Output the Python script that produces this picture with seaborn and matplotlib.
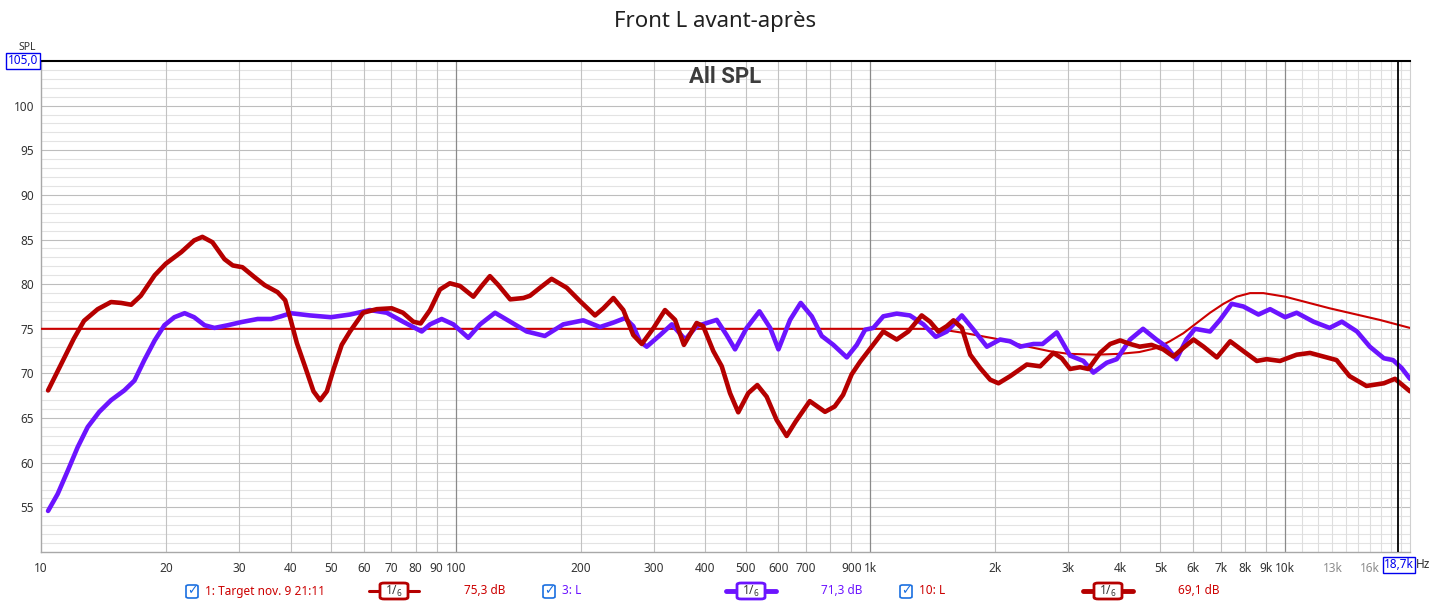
import matplotlib.pyplot as plt
import seaborn as sns
import pandas as pd
from matplotlib.patches import FancyBboxPatch
from matplotlib.lines import Line2D

# courbe cible (Target)
target_f = [10, 1300, 1450, 1700, 2000, 2400, 2700, 3000, 3500, 4000, 4450, 4900, 5270, 5680,
            6120, 6590, 7100, 7640, 8230, 8860, 10000, 12800, 16900, 20000]
target_db = [75.0, 75.0, 75.0, 74.5, 73.9, 73.0, 72.5, 72.2, 72.1, 72.2, 72.4, 72.85, 73.6, 74.5,
             75.65, 76.8, 77.8, 78.6, 79.0, 79.0, 78.6, 77.3, 76.0, 75.1]

# 3: L (avant)
l3_f = [10.4, 10.97, 11.6, 12.26, 12.96, 13.82, 14.75, 15.88, 16.8, 17.75, 18.8, 19.84, 20.97, 22.2,
        23.4, 24.8, 26.2, 28.2, 30.4, 33.3, 35.9, 37.9, 40.0, 44.5, 50, 55.6, 62.1, 68.2, 74.6,
        82.8, 86.7, 92.5, 98.7, 107.2, 114.5, 124.4, 135.3, 148.3, 164, 181.7, 203, 222.8, 240,
        256, 268, 278, 288.8, 311, 332, 357.5, 381, 403, 426, 450, 471.6, 503, 540, 573, 600,
        640, 679, 722, 763, 814, 877, 927, 971, 1016, 1074, 1157, 1245, 1342, 1437, 1528, 1661,
        1773, 1909, 2054, 2173, 2296, 2472, 2600, 2814, 3029, 3262, 3448, 3713, 3926, 4228,
        4543, 4892, 5172, 5469, 5780, 6060, 6589, 6965, 7431, 7930, 8621, 9198, 10000, 10660,
        11700, 12800, 13700, 14900, 16000, 17300, 18200, 19100, 20000]
l3_db = [54.6, 56.5, 59.1, 61.75, 64.0, 65.7, 67.0, 68.1, 69.2, 71.5, 73.7, 75.4, 76.3, 76.75,
         76.3, 75.4, 75.1, 75.4, 75.75, 76.1, 76.1, 76.4, 76.75, 76.5, 76.3, 76.6, 77.1, 76.8, 75.8,
         74.7, 75.5, 76.1, 75.5, 74.0, 75.5, 76.8, 75.8, 74.7, 74.2, 75.5, 75.95, 75.2, 75.7,
         76.2, 75.3, 73.6, 73.0, 74.3, 75.5, 73.8, 75.3, 75.65, 76.0, 74.3, 72.7, 75.1, 76.96, 75.1, 72.7,
         76.0, 77.9, 76.4, 74.2, 73.2, 71.8, 73.2, 74.9, 75.1, 76.4, 76.7, 76.5, 75.5, 74.1, 74.7, 76.5,
         74.9, 73.0, 73.8, 73.6, 73.0, 73.3, 73.3, 74.6, 72.0, 71.4, 70.1, 71.2, 71.6, 73.8,
         75.0, 73.8, 73.0, 71.6, 73.8, 75.0, 74.7, 76.0, 77.8, 77.5, 76.6, 77.2, 76.3, 76.8,
         75.8, 75.1, 75.8, 74.7, 73.0, 71.7, 71.5, 70.6, 69.4]

# 10: L (après)
l10_f = [10.4, 11.2, 12.0, 12.7, 13.7, 14.75, 15.6, 16.5, 17.4, 18.8, 20.0, 21.8, 23.4, 24.5, 25.9,
         27.7, 29.0, 30.6, 32.7, 34.6, 37.2, 38.8, 40.0, 41.4, 43.3, 45.4, 47.1, 48.9, 50.7, 53.1,
         55.6, 59.8, 64.5, 70.1, 74.6, 79.0, 82.3, 86.7, 91.6, 96.8, 102.4, 110.3, 115.5, 120.9,
         126.7, 135.3, 145.6, 151, 159.7, 170.3, 185.2, 199.4, 216.7, 227, 240, 253.6, 268, 281,
         300, 319.6, 338, 355, 381, 395, 418, 438, 458.5, 480, 507.6, 533.6, 562, 594, 628, 660,
         714, 777, 820, 859, 901, 944, 1007, 1074, 1157, 1234, 1329, 1392, 1458, 1528, 1586, 1661,
         1740, 1839, 1944, 2036, 2173, 2383, 2566, 2762, 2893, 3029, 3202, 3354, 3578, 3784, 4000,
         4228, 4460, 4762, 5080, 5374, 5675, 6013, 6357, 6843, 7370, 7930, 8543, 9028, 9720,
         10660, 11480, 12360, 13300, 14300, 15700, 17300, 18400, 19300, 20000]
l10_db = [68.1, 71.1, 73.9, 75.9, 77.2, 78.0, 77.9, 77.7, 78.7, 81.0, 82.3, 83.6, 84.9, 85.3, 84.7,
          82.8, 82.1, 81.9, 80.8, 79.9, 79.1, 78.2, 76.0, 73.4, 70.8, 68.0, 67.0, 68.0, 70.4, 73.2,
          74.7, 76.8, 77.2, 77.3, 76.8, 75.8, 75.6, 77.1, 79.4, 80.1, 79.8, 78.6, 79.8, 80.9,
          79.9, 78.3, 78.45, 78.7, 79.6, 80.6, 79.6, 78.1, 76.5, 77.3, 78.45, 77.1, 74.3, 73.3,
          75.1, 77.1, 76.0, 73.2, 75.65, 75.3, 72.5, 70.8, 67.8, 65.65, 67.8, 68.7, 67.4, 64.8, 63.0, 64.6,
          66.9, 65.7, 66.3, 67.6, 69.9, 71.3, 73.0, 74.7, 73.8, 74.7, 76.5, 75.8, 74.7, 75.3, 75.95, 75.1,
          72.1, 70.6, 69.3, 68.9, 69.7, 71.0, 70.8, 72.3, 71.7, 70.5, 70.7, 70.5, 72.3, 73.3, 73.7,
          73.3, 73.0, 73.2, 72.7, 71.9, 72.85, 73.8, 73.0, 71.8, 73.6, 72.5, 71.4, 71.6, 71.4,
          72.1, 72.3, 71.9, 71.5, 69.7, 68.6, 68.9, 69.4, 68.6, 68.0]

tick_freqs = [10, 20, 30, 40, 50, 60, 70, 80, 90, 100, 200, 300, 400, 500, 600, 700, 900, 1000,
              2000, 3000, 4000, 5000, 6000, 7000, 8000, 9000, 10000, 13000, 16000]
tick_labels = ['10', '20', '30', '40', '50', '60', '70', '80', '90', '100', '200', '300', '400',
               '500', '600', '700', '900', '1k', '2k', '3k', '4k', '5k', '6k', '7k', '8k', '9k',
               '10k', '13k', '16k']
grid_freqs = [20, 30, 40, 50, 60, 70, 80, 90, 200, 300, 400, 500, 600, 700, 800, 900,
              2000, 3000, 4000, 5000, 6000, 7000, 8000, 9000]
fine_freqs = [11000, 12000, 13000, 14000, 15000, 16000, 17000, 18000, 19000]

legend_names = ['1: Target nov. 9 21:11', '3: L', '10: L']
legend_levels = ['75,3 dB', '71,3 dB', '69,1 dB']

RED = '#cc0000'
PURPLE = '#6c14ff'
DARKRED = '#b50000'
BLUE = '#1a6fe0'

sns.set_style('white')
plt.rcParams['font.family'] = ['Noto Sans', 'DejaVu Sans']

W, H = 1431, 604
fig = plt.figure(figsize=(W / 100, H / 100), dpi=100)
ax = fig.add_axes([41 / W, 52 / H, 1369 / W, 491 / H])
ax.set_xscale('log')
ax.set_xlim(10, 20000)
ax.set_ylim(50, 105)

# grille
for v in range(51, 105):
    ax.axhline(v, color='#bdbdbd' if v % 5 == 0 else '#e3e3e3', lw=0.8, zorder=0)
for f in grid_freqs:
    ax.axvline(f, color='#c2c2c2', lw=0.8, zorder=0)
for f in fine_freqs:
    ax.axvline(f, color='#dedede', lw=0.8, zorder=0)
for f in [100, 1000, 10000]:
    ax.axvline(f, color='#8a8a8a', lw=0.9, zorder=0)

df_t = pd.DataFrame({'f': target_f, 'db': target_db})
df_3 = pd.DataFrame({'f': l3_f, 'db': l3_db})
df_10 = pd.DataFrame({'f': l10_f, 'db': l10_db})
sns.lineplot(data=df_t, x='f', y='db', ax=ax, color=RED, lw=1.5, estimator=None, sort=False, zorder=3)
sns.lineplot(data=df_3, x='f', y='db', ax=ax, color=PURPLE, lw=3.3, estimator=None, sort=False,
             zorder=4, solid_joinstyle='round', solid_capstyle='round')
sns.lineplot(data=df_10, x='f', y='db', ax=ax, color=DARKRED, lw=3.3, estimator=None, sort=False,
             zorder=5, solid_joinstyle='round', solid_capstyle='round')

# curseur
ax.axvline(18700, color='black', lw=1.3, zorder=6)

ax.set_xlabel('')
ax.set_ylabel('')
ax.set_xticks(tick_freqs)
ax.set_xticklabels(tick_labels)
ax.minorticks_off()
ax.set_yticks(range(55, 101, 5))
ax.tick_params(length=0, labelsize=8.5, colors='#333333')
ax.tick_params(axis='x', pad=7)
ax.tick_params(axis='y', pad=5)
for lab in ax.get_xticklabels():
    if lab.get_text() in ('13k', '16k'):
        lab.set_color('#8c8c8c')

for s in ['left', 'bottom']:
    ax.spines[s].set_color('#a8a8a8')
    ax.spines[s].set_linewidth(1)
ax.spines['right'].set_color('#d0d0d0')
ax.spines['top'].set_color('black')
ax.spines['top'].set_linewidth(1.5)

fig.text(0.5, 1 - 22 / H, 'Front L avant-après', ha='center', va='center', fontsize=16, color='#202020')
ax.text(0.5, 0.967, 'All SPL', transform=ax.transAxes, ha='center', va='center',
        fontsize=16, fontweight='bold', family='Roboto', color='#3c3c3c')


def px(x, y):
    return x / W, 1 - y / H


fig.text(*px(27, 47), 'SPL', ha='center', va='center', fontsize=7.5, color='#333333')
fig.text(*px(23, 61), '105,0', ha='center', va='center', fontsize=8.5, color='#0000ee',
         bbox=dict(boxstyle='square,pad=0.12', fc='white', ec='#0000ee', lw=1))
fig.text(*px(1399, 565), '18,7k', ha='center', va='center', fontsize=8.5, color='#0000ee',
         bbox=dict(boxstyle='square,pad=0.12', fc='white', ec='#0000ee', lw=1))
fig.text(*px(1423, 565), 'Hz', ha='center', va='center', fontsize=8.5, color='#333333')

# légende en bas
leg_y = 591
checks = [192, 549, 906]
name_x = [205, 562, 919]
name_col = [RED, PURPLE, RED]
sym_x = [394, 751, 1108]
sym_col = [DARKRED, PURPLE, DARKRED]
sym_lw = [2.2, 3.5, 3.5]
lvl_x = [485, 842, 1199]
lvl_col = [RED, PURPLE, RED]
for i in range(3):
    bx, by = px(checks[i] - 6, leg_y + 7)
    fig.add_artist(FancyBboxPatch((bx, by), 12 / W, 13 / H, boxstyle='round,pad=0,rounding_size=0.002',
                                  fc='white', ec=BLUE, lw=1.2, transform=fig.transFigure, zorder=3))
    fig.text(*px(checks[i], leg_y), '✓', ha='center', va='center', fontsize=9, color=BLUE,
             family='DejaVu Sans', fontweight='bold', zorder=4)
    fig.text(*px(name_x[i], leg_y), legend_names[i], ha='left', va='center', fontsize=8.5, color=name_col[i])
    x0, y0 = px(sym_x[i] - 25, leg_y)
    x1, _ = px(sym_x[i] + 25, leg_y)
    fig.add_artist(Line2D([x0, x1], [y0, y0], color=sym_col[i], lw=sym_lw[i], transform=fig.transFigure,
                          zorder=2))
    bx, by = px(sym_x[i] - 14, leg_y + 8)
    fig.add_artist(FancyBboxPatch((bx, by), 28 / W, 16 / H, boxstyle='round,pad=0,rounding_size=0.003',
                                  fc='white', ec=sym_col[i], lw=2, transform=fig.transFigure, zorder=3))
    fig.text(*px(sym_x[i], leg_y), r'$\mathregular{1/_6}$', ha='center', va='center', fontsize=8.5,
             color='#333333', zorder=4)
    fig.text(*px(lvl_x[i], leg_y), legend_levels[i], ha='center', va='center', fontsize=8.5, color=lvl_col[i])

fig.savefig('out.png', dpi=100)
